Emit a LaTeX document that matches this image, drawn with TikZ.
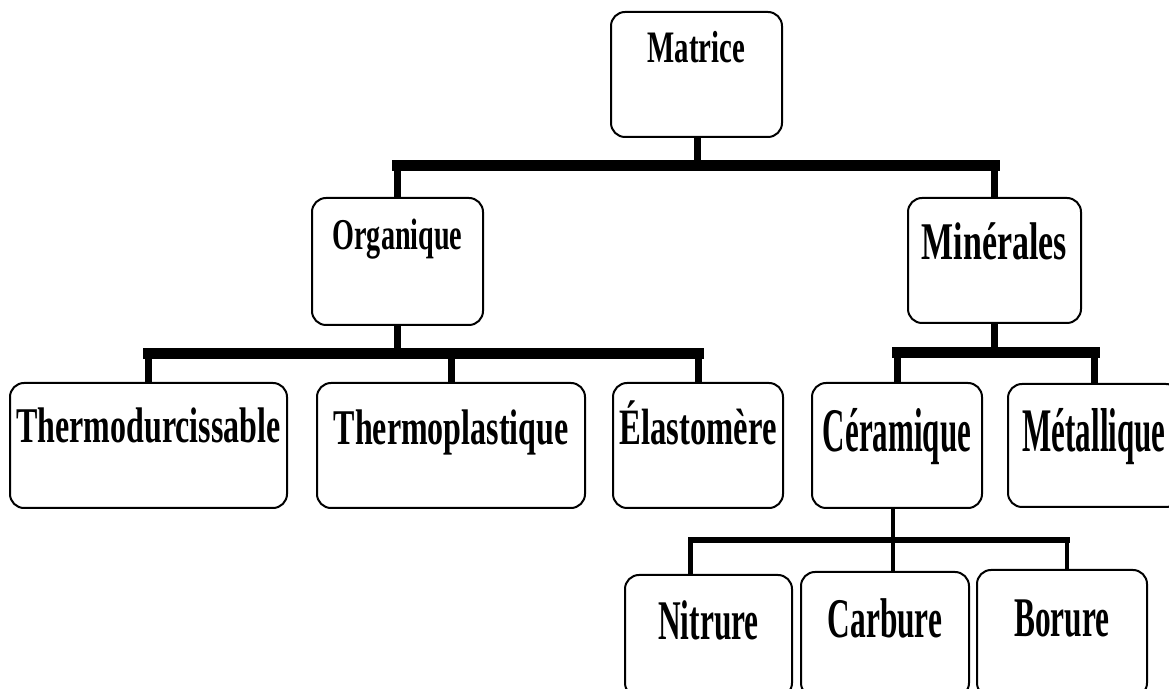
\documentclass[tikz,border=0pt]{standalone}
\usepackage{fontspec}
\setmainfont{Liberation Serif}
\newfontfamily\condA{Liberation Serif}[FakeStretch=0.64]
\newfontfamily\condB{Liberation Serif}[FakeStretch=0.56]
\newfontfamily\condC{Liberation Serif}[FakeStretch=0.5]

\begin{document}
\begin{tikzpicture}[x=0.5pt, y=-0.5pt,
    box/.style={draw, rounded corners=7pt, line width=1pt, inner sep=0pt, anchor=base, fill=white},
    hbar/.style={line width=5.5pt, line cap=rect},
    stem/.style={line width=3.5pt},
    thinbar/.style={line width=3pt, line cap=rect},
    thinstem/.style={line width=2.25pt}]
    \useasboundingbox (0,0) rectangle (1169,689);
    \node[box, minimum width=85.5pt, text height=25.5pt, text depth=37pt, font=\condA\bfseries\fontsize{22.5pt}{27pt}\selectfont] (matrice) at (696.5,63) {Matrice};
    \node[box, minimum width=85.5pt, text height=26pt, text depth=37.5pt, font=\condA\bfseries\fontsize{22pt}{26pt}\selectfont] (organique) at (397.5,250) {Organique};
    \node[box, minimum width=86.5pt, text height=31pt, text depth=31.5pt, font=\condA\bfseries\fontsize{26.5pt}{30pt}\selectfont] (minerales) at (994.5,260) {Minérales};
    \node[box, minimum width=138.5pt, text height=30pt, text depth=32.5pt, font=\condA\bfseries\fontsize{25pt}{30pt}\selectfont] (thermodur) at (148.5,443) {Thermodurcissable};
    \node[box, minimum width=134pt, text height=31pt, text depth=31.5pt, font=\condA\bfseries\fontsize{25pt}{30pt}\selectfont] (thermoplast) at (451,445) {Thermoplastique};
    \node[box, minimum width=85pt, text height=31pt, text depth=31.5pt, font=\condA\bfseries\fontsize{25.5pt}{30pt}\selectfont] (elastomere) at (698,445) {Élastomère};
    \node[box, minimum width=85pt, text height=34.5pt, text depth=28pt, font=\condC\bfseries\fontsize{31pt}{36pt}\selectfont] (ceramique) at (897,452) {Céramique};
    \node[box, minimum width=86pt, text height=34pt, text depth=27.5pt, font=\condC\bfseries\fontsize{31pt}{36pt}\selectfont] (metallique) at (1094,452) {Métallique};
    \node[box, minimum width=83.5pt, text height=32.5pt, text depth=28.5pt, font=\condB\bfseries\fontsize{28pt}{32pt}\selectfont] (nitrure) at (708.5,640) {Nitrure};
    \node[box, minimum width=84pt, text height=33pt, text depth=29.5pt, font=\condB\bfseries\fontsize{28pt}{32pt}\selectfont] (carbure) at (885,638) {Carbure};
    \node[box, minimum width=85pt, text height=33.5pt, text depth=30pt, font=\condB\bfseries\fontsize{28pt}{32pt}\selectfont] (borure) at (1062,637) {Borure};

    \coordinate (j1) at (697,166);
    \draw[stem] (matrice.south -| j1) -- (j1);
    \draw[hbar] (organique.north |- j1) -- (minerales.north |- j1);
    \foreach \n in {organique, minerales}
        \draw[stem] (\n.north |- j1) -- (\n.north);

    \coordinate (j2) at (397,354);
    \draw[stem] (organique.south) -- (organique.south |- j2);
    \draw[hbar] (thermodur.north |- j2) -- (elastomere.north |- j2);
    \foreach \n in {thermodur, thermoplast, elastomere}
        \draw[stem] (\n.north |- j2) -- (\n.north);

    \coordinate (j3) at (996,353);
    \draw[stem] (minerales.south) -- (minerales.south |- j3);
    \draw[hbar] (ceramique.north |- j3) -- (metallique.north |- j3);
    \foreach \n in {ceramique, metallique}
        \draw[stem] (\n.north |- j3) -- (\n.north);

    \coordinate (j4) at (893,540);
    \coordinate (n1) at ([xshift=-9pt]nitrure.north);
    \coordinate (b1) at ([xshift=2.5pt]borure.north);
    \draw[thinstem] (ceramique.south -| j4) -- (carbure.north -| j4);
    \draw[thinbar] (n1 |- j4) -- (b1 |- j4);
    \draw[thinstem] (n1 |- j4) -- (n1);
    \draw[thinstem] (b1 |- j4) -- (b1);
\end{tikzpicture}
\end{document}
